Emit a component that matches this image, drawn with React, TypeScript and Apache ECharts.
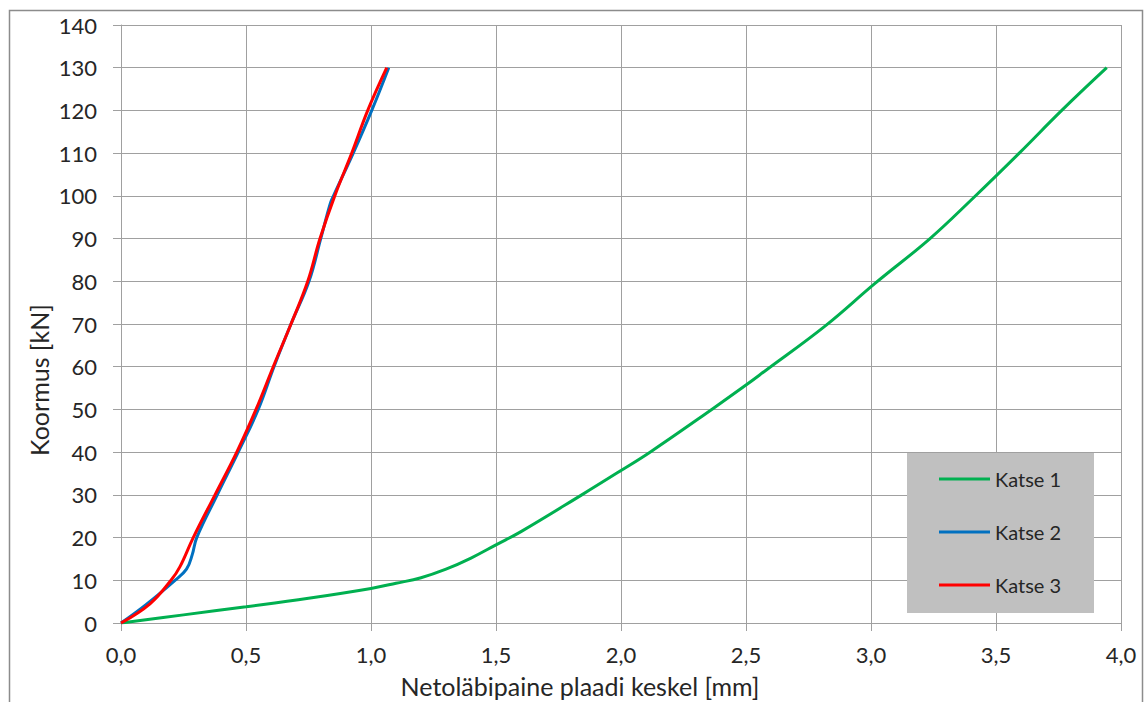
import React, { useEffect, useRef } from "react";
import * as echarts from "echarts";

const seriesNames = ["Katse 1", "Katse 2", "Katse 3"];
const seriesColors = ["#00b050", "#0070c0", "#ff0000"];

// [deflection mm, load kN]
const katse1: [number, number][] = [
  [0, 0], [0.25, 1.9], [0.5, 3.8], [0.75, 5.8], [1.0, 8.1], [1.1, 9.3], [1.2, 10.6],
  [1.3, 12.6], [1.4, 15.2], [1.5, 18.3], [1.6, 21.4], [1.843, 30], [2.0, 35.7],
  [2.116, 40], [2.363, 50], [2.5, 55.7], [2.576, 59], [2.816, 69.5], [3.016, 79.5],
  [3.236, 90], [3.409, 99.5], [3.593, 110], [3.763, 120], [3.943, 130],
];
const katse2: [number, number][] = [
  [0, 0], [0.1, 4.3], [0.216, 10], [0.262, 12.6], [0.285, 16], [0.303, 20], [0.385, 30],
  [0.469, 40], [0.549, 50], [0.612, 60], [0.68, 70], [0.752, 80], [0.799, 90],
  [0.836, 98], [0.85, 100], [0.929, 110], [1.003, 120], [1.071, 130],
];
const katse3: [number, number][] = [
  [0, 0], [0.116, 4.5], [0.2, 10], [0.236, 13.2], [0.289, 20], [0.376, 30], [0.463, 40],
  [0.54, 50], [0.609, 60], [0.68, 70], [0.747, 80], [0.796, 90], [0.855, 100],
  [0.923, 110], [0.987, 120], [1.063, 130],
];
const seriesData = [katse1, katse2, katse3];

const xTicks = [0, 0.5, 1, 1.5, 2, 2.5, 3, 3.5, 4];
const yTicks = [0, 10, 20, 30, 40, 50, 60, 70, 80, 90, 100, 110, 120, 130, 140];
const xTitle = "Netoläbipaine plaadi keskel [mm]";
const yTitle = "Koormus [kN]";

const FONT = "Lato, 'Liberation Sans', sans-serif";
const TXT = "#262626";
const GRIDC = "#a0a0a0";

export default function App() {
  const ref = useRef<HTMLDivElement>(null);
  useEffect(() => {
    if (!ref.current) return;
    const chart = echarts.init(ref.current, undefined, { renderer: "svg" });
    chart.setOption({
      animation: false,
      backgroundColor: "#ffffff",
      textStyle: { fontFamily: FONT },
      grid: { left: 121, top: 25, width: 1000, height: 598, containLabel: false },
      xAxis: {
        type: "value",
        min: xTicks[0],
        max: xTicks[xTicks.length - 1],
        interval: 0.5,
        axisLine: { show: true, lineStyle: { color: GRIDC, width: 1 } },
        axisTick: { show: true, inside: false, length: 8, lineStyle: { color: GRIDC } },
        splitLine: { show: true, lineStyle: { color: GRIDC, width: 1 } },
        axisLabel: {
          margin: 20,
          fontSize: 22,
          color: TXT,
          fontFamily: FONT,
          formatter: (v: number) => v.toFixed(1).replace(".", ","),
        },
      },
      yAxis: {
        type: "value",
        min: yTicks[0],
        max: yTicks[yTicks.length - 1],
        interval: 10,
        axisLine: { show: true, lineStyle: { color: GRIDC, width: 1 } },
        axisTick: { show: true, inside: false, length: 8, lineStyle: { color: GRIDC } },
        splitLine: { show: true, lineStyle: { color: GRIDC, width: 1 } },
        axisLabel: { margin: 24, fontSize: 22, color: TXT, fontFamily: FONT },
      },
      legend: {
        data: seriesNames.map((n) => ({ name: n, icon: "rect" })),
        orient: "vertical",
        left: 939,
        top: 469,
        padding: 0,
        itemWidth: 51,
        itemHeight: 3,
        itemGap: 33,
        textStyle: { fontSize: 20, lineHeight: 20, color: TXT, fontFamily: FONT },
        z: 10,
      },
      graphic: [
        {
          type: "rect",
          z: 5,
          shape: { x: 907, y: 453, width: 187, height: 160 },
          style: { fill: "#c0c0c0" },
        },
        {
          type: "rect",
          z: 5,
          shape: { x: 9.5, y: 10.5, width: 1133, height: 700 },
          style: { fill: "none", stroke: "#8c8c8c", lineWidth: 1.5 },
        },
        {
          type: "text",
          x: 580,
          y: 686,
          style: {
            text: xTitle,
            fontSize: 25,
            fontFamily: FONT,
            fill: TXT,
            align: "center",
            verticalAlign: "middle",
          },
        },
        {
          type: "text",
          x: 39,
          y: 380,
          rotation: Math.PI / 2,
          style: {
            text: yTitle,
            fontSize: 25,
            fontFamily: FONT,
            fill: TXT,
            align: "center",
            verticalAlign: "middle",
          },
        },
      ],
      series: seriesNames.map((name, i) => ({
        name,
        type: "line",
        data: seriesData[i],
        symbol: "none",
        smooth: 0.4,
        color: seriesColors[i],
        lineStyle: { width: 3, color: seriesColors[i] },
        z: 3 + i,
      })),
    });
    return () => chart.dispose();
  }, []);
  return (
    <div
      ref={ref}
      style={{ position: "fixed", left: 0, top: 0, width: 1145, height: 702 }}
    />
  );
}
